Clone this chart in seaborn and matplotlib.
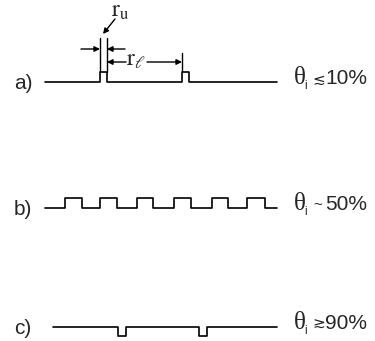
import matplotlib
matplotlib.use("Agg")
import matplotlib.pyplot as plt
import seaborn as sns
import pandas as pd

# step edges (x) and levels (y) for the three traces, in pixel units
a_x = [45, 100, 107, 182, 189, 277]
a_y = [82, 72, 82, 72, 82, 82]
b_x = [45, 65, 82, 100, 117, 137, 153, 174, 191, 212, 228, 247, 265, 277]
b_y = [208, 198, 208, 198, 208, 198, 208, 198, 208, 198, 208, 198, 208, 208]
c_x = [53, 118, 126, 199, 207, 277]
c_y = [327, 336, 327, 336, 327, 327]

row_labels = ["a)", "b)", "c)"]
row_label_y = [82, 208, 327]
coverage = ["10%", "50%", "90%"]
relation = ["\u2272", "~", "\u2273"]

sns.set_style("white")
plt.rcParams['font.family'] = ['Liberation Sans', 'DejaVu Sans']

fig = plt.figure(figsize=(3.75, 3.41), dpi=100)
ax = fig.add_axes([0, 0, 1, 1])
ax.set_xlim(0, 375)
ax.set_ylim(341, 0)
ax.axis("off")

for xs, ys in [(a_x, a_y), (b_x, b_y), (c_x, c_y)]:
    df = pd.DataFrame({"x": xs, "y": ys})
    sns.lineplot(data=df, x="x", y="y", ax=ax, color="black", lw=1.2,
                 drawstyle="steps-post", sort=False, estimator=None)

for lab, ly, cov, rel in zip(row_labels, row_label_y, coverage, relation):
    base = ly + 2
    ax.text(14, base + 5, lab, fontsize=15, va="baseline", ha="left")
    ax.text(293.5, base, "\u03b8", fontsize=18, va="baseline", ha="left",
            family=['Liberation Serif'])
    ax.text(304, base + 5, "i", fontsize=8.5, va="baseline", ha="left")
    if rel == "~":
        ax.text(317.5, base - 5, rel, fontsize=11, va="center", ha="center")
    else:
        ax.text(318.5, base, rel, fontsize=11, va="baseline", ha="center",
                family=['DejaVu Sans'])
    ax.text(325, base, cov, fontsize=15, va="baseline", ha="left")

# dimension lines for r_u and r_l
ax.plot([100, 100], [38, 72], color="black", lw=1)
ax.plot([107, 107], [38, 72], color="black", lw=1)
ax.plot([182, 182], [53, 72], color="black", lw=1)
arw = dict(arrowstyle="-|>", color="black", lw=1, mutation_scale=8, shrinkA=0, shrinkB=0)
ax.annotate("", xy=(100, 49), xytext=(81, 49), arrowprops=arw)
ax.annotate("", xy=(107, 49), xytext=(125, 49), arrowprops=arw)
ax.annotate("", xy=(107, 62), xytext=(126, 62), arrowprops=arw)
ax.annotate("", xy=(182, 62), xytext=(147, 62), arrowprops=arw)
ax.text(136, 60, r"$\mathrm{r}_{\ell}$", fontsize=17, va="center", ha="center",
        math_fontfamily="stix")
ax.text(120, 11, r"$\mathrm{r}_{\mathrm{u}}$", fontsize=17, va="center", ha="center",
        math_fontfamily="stix")
ax.annotate("", xy=(103, 34), xytext=(115, 19), arrowprops=arw)

fig.savefig("out.png", dpi=100)
